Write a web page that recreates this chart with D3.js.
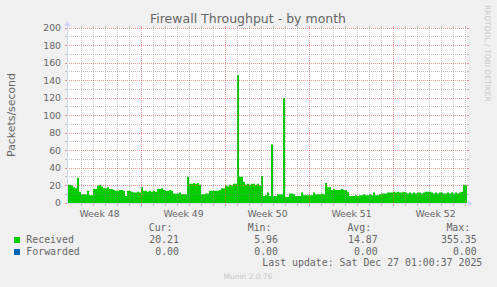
<!DOCTYPE html>
<html>
<head>
<meta charset="utf-8">
<script src="https://cdnjs.cloudflare.com/ajax/libs/d3/7.8.5/d3.min.js"></script>
<style>
  body { margin: 0; background: #f0f0f0; }
  svg { display: block; }
  text { font-family: "DejaVu Sans", sans-serif; fill: #666; }
  .mono { font-family: "DejaVu Sans Mono", monospace; font-size: 9.9px; }
  .faint { fill: #c8c8c8; font-size: 7.5px; }
</style>
</head>
<body>
<svg width="497" height="287"></svg>
<script>
// one sample every 4 hours, 33 1/3 days in total
var received = [
  21,21,20,18,17,29,13,10,10,10,
  14,9,9,16,16,20,21,19,17,17,
  18,16,16,15,14,14,15,15,14,8,
  14,14,13,12,12,13,12,18,14,14,
  13,14,13,14,13,16,16,17,15,14,
  14,15,14,11,11,11,12,10,10,10,
  30,22,22,23,22,23,21,10,10,11,
  11,14,14,14,14,14,15,17,17,20,
  19,21,20,22,22,146,30,30,24,21,
  22,21,22,22,21,22,20,31,8,9,
  12,8,67,8,8,10,10,10,120,7,
  7,11,11,10,8,8,8,12,9,9,
  9,9,9,12,10,10,10,11,10,23,
  18,18,15,16,15,15,15,16,15,15,
  13,8,8,8,9,8,9,9,10,9,
  9,10,9,12,9,9,10,11,11,11,
  12,12,12,13,12,13,12,12,13,12,
  11,12,11,12,11,12,12,11,12,13,
  13,13,12,11,12,11,12,12,11,11,
  12,11,12,11,12,11,12,13,21,20
];
// one sample per day
var forwarded = [0,0,0,0,0,0,0,0,0,0,0,0,0,0,0,0,0,0,0,0,0,0,0,0,0,0,0,0,0,0,0,0,0,0];

var weekLabels = ["Week 48", "Week 49", "Week 50", "Week 51", "Week 52"];
var seriesNames = ["Received", "Forwarded"];
var seriesColors = ["#00cc00", "#0066b3"];
var curVals = ["20.21", "0.00"];
var minVals = ["5.96", "0.00"];
var avgVals = ["14.87", "0.00"];
var maxVals = ["355.35", "0.00"];
var lastUpdate = "Last update: Sat Dec 27 01:00:37 2025";

var svg = d3.select("svg"),
    plotLeft = 67, plotTop = 28, width = 400, height = 175,
    spanDays = 400 / 12,
    firstMidnight = 1.21;   // first day boundary after the start

var x = d3.scaleLinear().domain([0, spanDays]).range([plotLeft, plotLeft + width]);
var y = d3.scaleLinear().domain([0, 200]).range([plotTop + height, plotTop]);

var px = function (v) { return Math.floor(v) + 0.5; };

svg.append("rect")
    .attr("x", plotLeft).attr("y", plotTop)
    .attr("width", width).attr("height", height)
    .attr("fill", "#fff");

// data
var recPts = received.map(function (v, i) { return [i / 6, v]; });
recPts.push([spanDays, received[received.length - 1]]);

svg.append("path")
    .datum(recPts)
    .attr("fill", "#00cc00")
    .attr("d", d3.area()
        .curve(d3.curveStepAfter)
        .x(function (d) { return x(d[0]); })
        .y0(y(0))
        .y1(function (d) { return y(d[1]); }));

svg.append("path")
    .datum(forwarded.map(function (v, i) { return [Math.min(i, spanDays), v]; }))
    .attr("fill", "none")
    .attr("stroke", "#0066b3")
    .attr("d", d3.line()
        .x(function (d) { return x(d[0]); })
        .y(function (d) { return y(d[1]) + 0.5; }));

// grid
var gridCol = "rgba(143,143,143,0.55)",
    mgridCol = "rgba(222,80,80,0.6)";

var g = svg.append("g").attr("shape-rendering", "crispEdges");

var yVals = y.ticks(20);
yVals.forEach(function (v) {
    var yy = px(y(v)), major = v % 20 === 0, c = major ? mgridCol : gridCol;
    if (v > 0) {
        g.append("line").attr("x1", plotLeft).attr("x2", plotLeft + width)
            .attr("y1", yy).attr("y2", yy)
            .attr("stroke", c).attr("stroke-dasharray", "1,1");
        g.append("line").attr("x1", plotLeft + width).attr("x2", plotLeft + width + 2)
            .attr("y1", yy).attr("y2", yy).attr("stroke", c);
    }
    g.append("line").attr("x1", plotLeft - 2).attr("x2", plotLeft)
        .attr("y1", yy).attr("y2", yy).attr("stroke", c);
});

var days = d3.range(firstMidnight, spanDays, 1);
days.forEach(function (d, k) {
    var xx = px(x(d)), major = (k - 5) % 7 === 0, c = major ? mgridCol : gridCol;
    g.append("line").attr("x1", xx).attr("x2", xx)
        .attr("y1", plotTop).attr("y2", plotTop + height)
        .attr("stroke", c).attr("stroke-dasharray", "1,1");
    g.append("line").attr("x1", xx).attr("x2", xx)
        .attr("y1", plotTop + height + 1).attr("y2", plotTop + height + 3)
        .attr("stroke", c);
    g.append("line").attr("x1", xx).attr("x2", xx)
        .attr("y1", plotTop - 2).attr("y2", plotTop)
        .attr("stroke", c);
});

// axes
var axisCol = "#cfd6f8";
g.append("line").attr("x1", plotLeft).attr("x2", plotLeft + width + 1)
    .attr("y1", plotTop + height + 0.5).attr("y2", plotTop + height + 0.5).attr("stroke", axisCol);
g.append("line").attr("x1", plotLeft + 0.5).attr("x2", plotLeft + 0.5)
    .attr("y1", plotTop + height + 1).attr("y2", plotTop - 2).attr("stroke", axisCol);
svg.append("path")
    .attr("d", "M" + (plotLeft + width + 1) + "," + (plotTop + height - 2.5) + "l5,3l-5,3z")
    .attr("fill", axisCol);
svg.append("path")
    .attr("d", "M" + (plotLeft - 2.5) + "," + (plotTop - 2) + "l3,-5l3,5z")
    .attr("fill", axisCol);

// y labels
svg.append("g").selectAll("text")
    .data(y.ticks(10))
    .enter().append("text")
    .attr("x", plotLeft - 6)
    .attr("y", function (d) { return y(d); })
    .attr("dy", "0.36em")
    .attr("text-anchor", "end")
    .style("font-size", "9.3px")
    .text(function (d) { return d; });

// week labels, centred in the middle of each week
svg.append("g").selectAll("text")
    .data(weekLabels)
    .enter().append("text")
    .attr("x", function (d, i) { return x(firstMidnight + 5 + 7 * i - 3.5); })
    .attr("y", 216.5)
    .attr("text-anchor", "middle")
    .style("font-size", "9.3px")
    .text(function (d) { return d; });

svg.append("text")
    .attr("x", 248).attr("y", 22.5)
    .attr("text-anchor", "middle")
    .style("font-size", "12.5px")
    .text("Firewall Throughput - by month");

svg.append("text")
    .attr("transform", "translate(15,115) rotate(-90)")
    .attr("text-anchor", "middle")
    .style("font-size", "10.9px")
    .text("Packets/second");

svg.append("text")
    .attr("class", "faint")
    .attr("transform", "translate(485,5) rotate(90)")
    .text("RRDTOOL / TOBI OETIKER");

// legend
var cols = [
    {head: "Cur:", vals: curVals, right: 179},
    {head: "Min:", vals: minVals, right: 278},
    {head: "Avg:", vals: avgVals, right: 377.7},
    {head: "Max:", vals: maxVals, right: 476.7}
];
var leg = svg.append("g");
cols.forEach(function (c) {
    leg.append("text").attr("class", "mono")
        .attr("x", c.right - 6.5).attr("y", 230.5)
        .attr("text-anchor", "end").text(c.head);
    c.vals.forEach(function (v, i) {
        leg.append("text").attr("class", "mono")
            .attr("x", c.right).attr("y", 243 + 12 * i)
            .attr("text-anchor", "end").text(v);
    });
});
seriesNames.forEach(function (n, i) {
    leg.append("rect")
        .attr("x", 14).attr("y", 237 + 12 * i)
        .attr("width", 6).attr("height", 6)
        .attr("fill", seriesColors[i]);
    leg.append("text").attr("class", "mono")
        .attr("x", 26.3).attr("y", 243 + 12 * i)
        .text(n);
});
leg.append("text").attr("class", "mono")
    .attr("x", 482.3).attr("y", 266)
    .attr("text-anchor", "end")
    .text(lastUpdate);

svg.append("text")
    .attr("class", "faint")
    .attr("x", 248).attr("y", 279)
    .attr("text-anchor", "middle")
    .text("Munin 2.0.76");
</script>
</body>
</html>
